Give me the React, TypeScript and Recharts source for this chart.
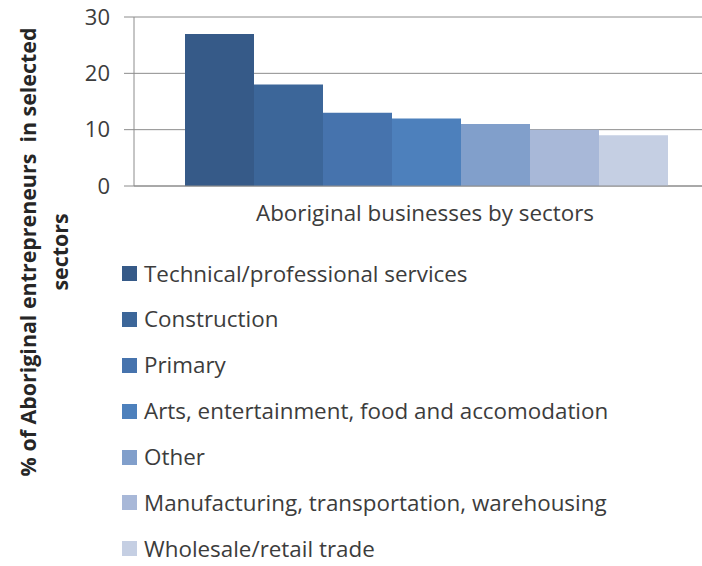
import { Bar, BarChart, CartesianGrid, Legend, XAxis, YAxis } from "recharts";

const categories = ["Aboriginal businesses by sectors"];
const sectors = [
  "Technical/professional services",
  "Construction",
  "Primary",
  "Arts, entertainment, food and accomodation",
  "Other",
  "Manufacturing, transportation, warehousing",
  "Wholesale/retail trade",
];
const shares = [27, 18, 13, 12, 11, 10, 9];
const yTicks = [0, 10, 20, 30];
const colors = ["#365A88", "#3C6699", "#4673AD", "#4D80BC", "#819FCB", "#A8B8D8", "#C5CFE3"];

const FONT = "'Open Sans', sans-serif";
const GRID = "#8c8c8c";

const data = categories.map((name) => {
  const row: Record<string, string | number> = { name };
  sectors.forEach((s, i) => {
    row[s] = shares[i];
  });
  return row;
});

function SectorLegend() {
  return (
    <div
      style={{
        fontFamily: FONT,
        fontSize: 22.4,
        lineHeight: "22px",
        color: "#3c3c3c",
        height: 290,
        display: "flex",
        flexDirection: "column",
        gap: 23.9,
      }}
    >
      {sectors.map((s, i) => (
        <div key={s} style={{ display: "flex", alignItems: "center", height: 22, whiteSpace: "nowrap" }}>
          <span style={{ width: 15, height: 15, background: colors[i], marginRight: 7, flex: "none" }} />
          {s}
        </div>
      ))}
    </div>
  );
}

function YTitle() {
  return (
    <g fontFamily={FONT} fontSize={21.4} fontWeight={700} fill="#262626" textAnchor="middle">
      <text transform="translate(36,252) rotate(-90)">% of Aboriginal entrepreneurs&#160; in selected</text>
      <text transform="translate(68,252) rotate(-90)">sectors</text>
    </g>
  );
}

export default function App() {
  return (
    <div style={{ position: "absolute", left: 0, top: 0, width: 702, height: 566, overflow: "hidden", background: "#fff" }}>
      <BarChart
        width={730}
        height={566}
        data={data}
        margin={{ top: 17, right: 14, bottom: 30, left: 0 }}
        barGap={0}
        barCategoryGap={51}
      >
        <CartesianGrid vertical={false} stroke={GRID} />
        <XAxis
          dataKey="name"
          height={60}
          tickSize={0}
          tickMargin={19}
          axisLine={{ stroke: GRID }}
          tick={{ fontFamily: FONT, fontSize: 22.4, fill: "#3c3c3c" }}
        />
        <YAxis
          width={134}
          domain={[0, 30]}
          ticks={yTicks}
          tickSize={10}
          tickMargin={14}
          axisLine={{ stroke: GRID }}
          tickLine={{ stroke: GRID }}
          tick={{ fontFamily: FONT, fontSize: 22, fill: "#3c3c3c" }}
          label={{ content: () => <YTitle /> }}
        />
        <Legend
          layout="vertical"
          verticalAlign="bottom"
          align="center"
          content={() => <SectorLegend />}
          wrapperStyle={{ left: 122, top: 262.5, width: 580 }}
        />
        {sectors.map((s, i) => (
          <Bar key={s} dataKey={s} fill={colors[i]} isAnimationActive={false} />
        ))}
      </BarChart>
    </div>
  );
}
